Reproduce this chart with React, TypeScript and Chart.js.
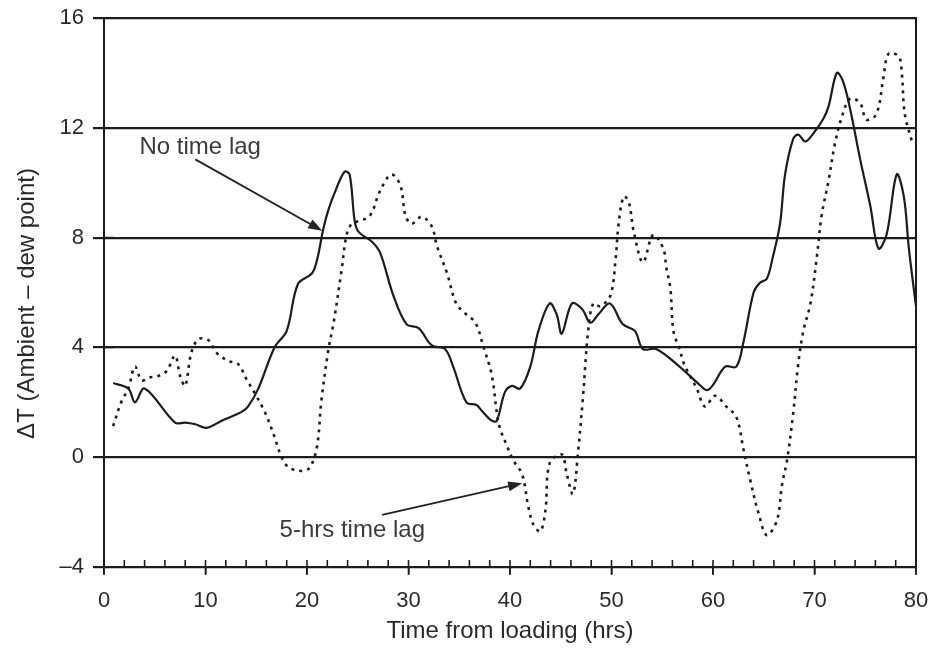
import React, { useEffect, useRef } from "react";
import { Chart, registerables } from "chart.js";

Chart.register(...registerables);

// ---- Data ----
const noLagHours = [0.9, 2.4, 3.05, 4.0, 7.0, 8.0, 9.0, 10.1, 11.6, 13.6, 14.2, 15.2, 16.8, 18.0, 19.1, 20.5, 21.0, 21.6, 22.1, 22.8, 23.7, 24.2, 24.7, 25.1, 26.4, 27.2, 28.5, 29.8, 31.0, 32.3, 33.6, 34.4, 35.7, 36.7, 37.2, 38.2, 38.7, 39.5, 40.2, 41.0, 42.0, 42.8, 43.9, 44.6, 45.1, 46.1, 47.1, 47.9, 48.7, 49.85, 51.1, 52.3, 53.1, 54.4, 56.7, 58.7, 59.4, 60.0, 61.2, 62.3, 63.0, 64.0, 64.6, 65.3, 65.9, 66.6, 67.1, 67.9, 68.4, 69.1, 69.9, 70.9, 71.4, 72.2, 72.8, 73.5, 74.5, 75.5, 76.3, 77.1, 78.1, 78.8, 79.3, 80.0];
const noLagDelta = [2.7, 2.5, 2.0, 2.5, 1.26, 1.26, 1.2, 1.07, 1.33, 1.66, 1.85, 2.5, 4.0, 4.6, 6.3, 6.7, 7.2, 8.3, 9.0, 9.7, 10.4, 10.3, 8.6, 8.2, 7.85, 7.45, 5.9, 4.85, 4.7, 4.07, 3.94, 3.3, 2.0, 1.9, 1.7, 1.33, 1.33, 2.37, 2.6, 2.5, 3.3, 4.6, 5.6, 5.2, 4.5, 5.6, 5.4, 4.9, 5.2, 5.6, 4.85, 4.6, 3.94, 3.94, 3.3, 2.63, 2.44, 2.63, 3.3, 3.3, 4.2, 6.0, 6.35, 6.5, 7.3, 8.5, 10.3, 11.6, 11.75, 11.5, 11.8, 12.35, 12.8, 14.0, 13.7, 12.7, 10.85, 9.15, 7.6, 8.1, 10.3, 9.5, 7.6, 5.5];

const lagHours = [0.9, 1.74, 2.4, 3.05, 3.7, 4.4, 5.35, 6.2, 7.0, 7.5, 8.0, 8.6, 9.3, 10.3, 11.1, 12.3, 13.2, 14.1, 14.9, 15.9, 16.8, 17.5, 18.2, 19.5, 20.3, 21.0, 21.4, 22.1, 22.6, 23.4, 23.9, 24.4, 25.1, 26.2, 27.2, 28.3, 29.2, 29.7, 30.3, 31.3, 32.3, 32.8, 33.8, 34.7, 35.7, 36.6, 37.4, 38.2, 38.9, 39.7, 40.3, 41.2, 41.8, 42.3, 43.0, 43.5, 43.9, 45.1, 45.6, 46.2, 46.7, 47.2, 47.7, 48.2, 48.9, 49.9, 50.4, 50.7, 51.2, 51.7, 52.2, 53.1, 54.1, 55.1, 55.4, 55.8, 56.1, 56.7, 57.2, 58.4, 59.2, 60.2, 61.3, 62.3, 63.0, 63.7, 64.5, 65.3, 66.3, 66.8, 67.3, 67.9, 68.4, 68.9, 69.6, 70.2, 70.7, 71.4, 72.0, 72.7, 73.5, 74.5, 75.1, 76.1, 76.8, 77.3, 78.3, 78.6, 78.8, 79.0, 79.6];
const lagDelta = [1.13, 2.05, 2.5, 3.3, 2.8, 2.9, 2.96, 3.15, 3.7, 2.96, 2.6, 3.8, 4.3, 4.26, 3.8, 3.5, 3.4, 2.8, 2.3, 1.6, 0.74, 0.0, -0.37, -0.5, -0.37, 0.42, 2.0, 3.9, 4.85, 6.8, 8.1, 8.5, 8.6, 8.8, 9.7, 10.3, 9.9, 8.8, 8.5, 8.76, 8.4, 7.7, 6.7, 5.6, 5.2, 4.9, 4.0, 3.0, 1.2, 0.42, -0.1, -0.63, -1.8, -2.45, -2.7, -1.9, -0.23, 0.1, -0.63, -1.34, 0.16, 2.24, 4.6, 5.6, 5.5, 5.9, 7.2, 8.5, 9.5, 9.3, 8.2, 7.1, 8.1, 7.6, 6.9, 6.15, 4.6, 3.94, 3.35, 2.5, 1.85, 2.24, 1.85, 1.46, 0.29, -0.89, -2.06, -2.84, -2.3, -1.0, -0.1, 1.6, 3.4, 4.6, 5.6, 7.2, 8.8, 10.1, 11.4, 12.4, 13.06, 12.9, 12.3, 12.5, 13.85, 14.7, 14.6, 14.0, 12.8, 12.3, 11.5];

const xMin = 0;
const xMax = 80;
const xMajorStep = 10;
const xMinorStep = 2;
const yMin = -4;
const yMax = 16;
const yStep = 4;

const xTitle = "Time from loading (hrs)";
const yTitle = "\u0394T (Ambient \u2013 dew point)";

// annotations in data coordinates
const noteNoLag = { text: "No time lag", x: 3.5, y: 11.3, fromX: 9.0, fromY: 10.85, toX: 21.5, toY: 8.25 };
const noteLag = { text: "5-hrs time lag", x: 17.3, y: -2.65, fromX: 27.4, fromY: -2.1, toX: 41.2, toY: -0.95 };

const FONT = "'Liberation Sans', Arial, sans-serif";
const INK = "#1c1c1c";
const TEXT = "#2a2a2a";

function toPoints(xs: number[], ys: number[]) {
  return xs.map((x, i) => ({ x, y: ys[i] }));
}

function drawArrow(ctx: CanvasRenderingContext2D, x1: number, y1: number, x2: number, y2: number) {
  const ang = Math.atan2(y2 - y1, x2 - x1);
  const head = 14;
  const half = 5;
  ctx.beginPath();
  ctx.moveTo(x1, y1);
  ctx.lineTo(x2 - Math.cos(ang) * head * 0.8, y2 - Math.sin(ang) * head * 0.8);
  ctx.stroke();
  ctx.beginPath();
  ctx.moveTo(x2, y2);
  ctx.lineTo(x2 - Math.cos(ang) * head + Math.sin(ang) * half, y2 - Math.sin(ang) * head - Math.cos(ang) * half);
  ctx.lineTo(x2 - Math.cos(ang) * head - Math.sin(ang) * half, y2 - Math.sin(ang) * head + Math.cos(ang) * half);
  ctx.closePath();
  ctx.fill();
}

const decorPlugin = {
  id: "decor",
  afterDraw(chart: any) {
    const { ctx, chartArea, scales } = chart;
    const xs = scales.x;
    const ys = scales.y;
    ctx.save();
    // frame
    ctx.strokeStyle = INK;
    ctx.lineWidth = 2;
    ctx.strokeRect(chartArea.left, chartArea.top, chartArea.right - chartArea.left, chartArea.bottom - chartArea.top);
    // x ticks: minor inside, major crossing
    ctx.lineWidth = 1.6;
    for (let v = xMin; v <= xMax; v += xMinorStep) {
      const px = xs.getPixelForValue(v);
      const major = v % xMajorStep === 0;
      ctx.beginPath();
      ctx.moveTo(px, chartArea.bottom - 7);
      ctx.lineTo(px, chartArea.bottom + (major ? 8 : 0));
      ctx.stroke();
    }
    // y ticks crossing to the inside
    for (let v = yMin; v <= yMax; v += yStep) {
      const py = ys.getPixelForValue(v);
      ctx.beginPath();
      ctx.moveTo(chartArea.left, py);
      ctx.lineTo(chartArea.left + 10, py);
      ctx.stroke();
    }
    // y-axis title
    ctx.save();
    ctx.fillStyle = TEXT;
    ctx.font = `24px ${FONT}`;
    ctx.textAlign = "center";
    ctx.textBaseline = "middle";
    ctx.translate(27, (chartArea.top + chartArea.bottom) / 2 + 11);
    ctx.rotate(-Math.PI / 2);
    ctx.fillText(yTitle, 0, 0);
    ctx.restore();
    // annotations
    ctx.fillStyle = "#3a3a3a";
    ctx.strokeStyle = "#222";
    ctx.font = `24px ${FONT}`;
    ctx.textBaseline = "middle";
    ctx.textAlign = "left";
    for (const n of [noteNoLag, noteLag]) {
      ctx.fillText(n.text, xs.getPixelForValue(n.x), ys.getPixelForValue(n.y));
      ctx.lineWidth = 1.8;
      ctx.fillStyle = "#222";
      drawArrow(
        ctx,
        xs.getPixelForValue(n.fromX),
        ys.getPixelForValue(n.fromY),
        xs.getPixelForValue(n.toX),
        ys.getPixelForValue(n.toY)
      );
      ctx.fillStyle = "#3a3a3a";
    }
    ctx.restore();
  },
};

export default function App() {
  const ref = useRef<HTMLCanvasElement | null>(null);

  useEffect(() => {
    document.body.style.margin = "0";
    const canvas = ref.current;
    if (!canvas) return;
    const chart = new Chart(canvas, {
      type: "scatter",
      data: {
        datasets: [
          {
            label: "No time lag",
            data: toPoints(noLagHours, noLagDelta),
            showLine: true,
            borderColor: INK,
            borderWidth: 2.2,
            pointRadius: 0,
            tension: 0.35,
            fill: false,
          },
          {
            label: "5-hrs time lag",
            data: toPoints(lagHours, lagDelta),
            showLine: true,
            borderColor: INK,
            borderWidth: 2.6,
            borderDash: [3, 5],
            pointRadius: 0,
            tension: 0.35,
            fill: false,
          },
        ],
      },
      options: {
        animation: false,
        responsive: false,
        maintainAspectRatio: false,
        layout: { padding: { top: 18, right: 22, left: 0, bottom: 0 } },
        plugins: {
          legend: { display: false },
          tooltip: { enabled: false },
        },
        scales: {
          x: {
            type: "linear",
            min: xMin,
            max: xMax,
            afterFit: (s: any) => {
              s.height = 85;
              s.paddingLeft = 0;
              s.paddingRight = 0;
            },
            ticks: {
              stepSize: xMajorStep,
              color: TEXT,
              font: { family: FONT, size: 22 },
              padding: 14,
              maxRotation: 0,
            },
            grid: {
              display: true,
              drawOnChartArea: false,
              drawTicks: true,
              tickLength: 7,
              color: INK,
              lineWidth: 1.6,
            },
            border: { display: true, color: INK, width: 2 },
            title: {
              display: true,
              text: xTitle,
              color: TEXT,
              font: { family: FONT, size: 24 },
              padding: { top: 0, bottom: 6 },
            },
          },
          y: {
            type: "linear",
            min: yMin,
            max: yMax,
            afterFit: (s: any) => {
              s.width = 104;
              s.paddingTop = 0;
              s.paddingBottom = 0;
            },
            ticks: {
              stepSize: yStep,
              color: TEXT,
              font: { family: FONT, size: 22 },
              padding: 9,
              callback: (v: any) => (Number(v) < 0 ? "\u2013" + Math.abs(Number(v)) : String(v)),
            },
            grid: {
              display: true,
              drawOnChartArea: true,
              drawTicks: true,
              tickLength: 11,
              color: INK,
              lineWidth: 2.2,
            },
            border: { display: true, color: INK, width: 2 },
            title: { display: false },
          },
        },
      },
      plugins: [decorPlugin],
    });
    return () => chart.destroy();
  }, []);

  return (
    <div style={{ position: "absolute", left: 0, top: 0, width: 938, height: 652, background: "#fff" }}>
      <canvas ref={ref} width={938} height={652} />
    </div>
  );
}
